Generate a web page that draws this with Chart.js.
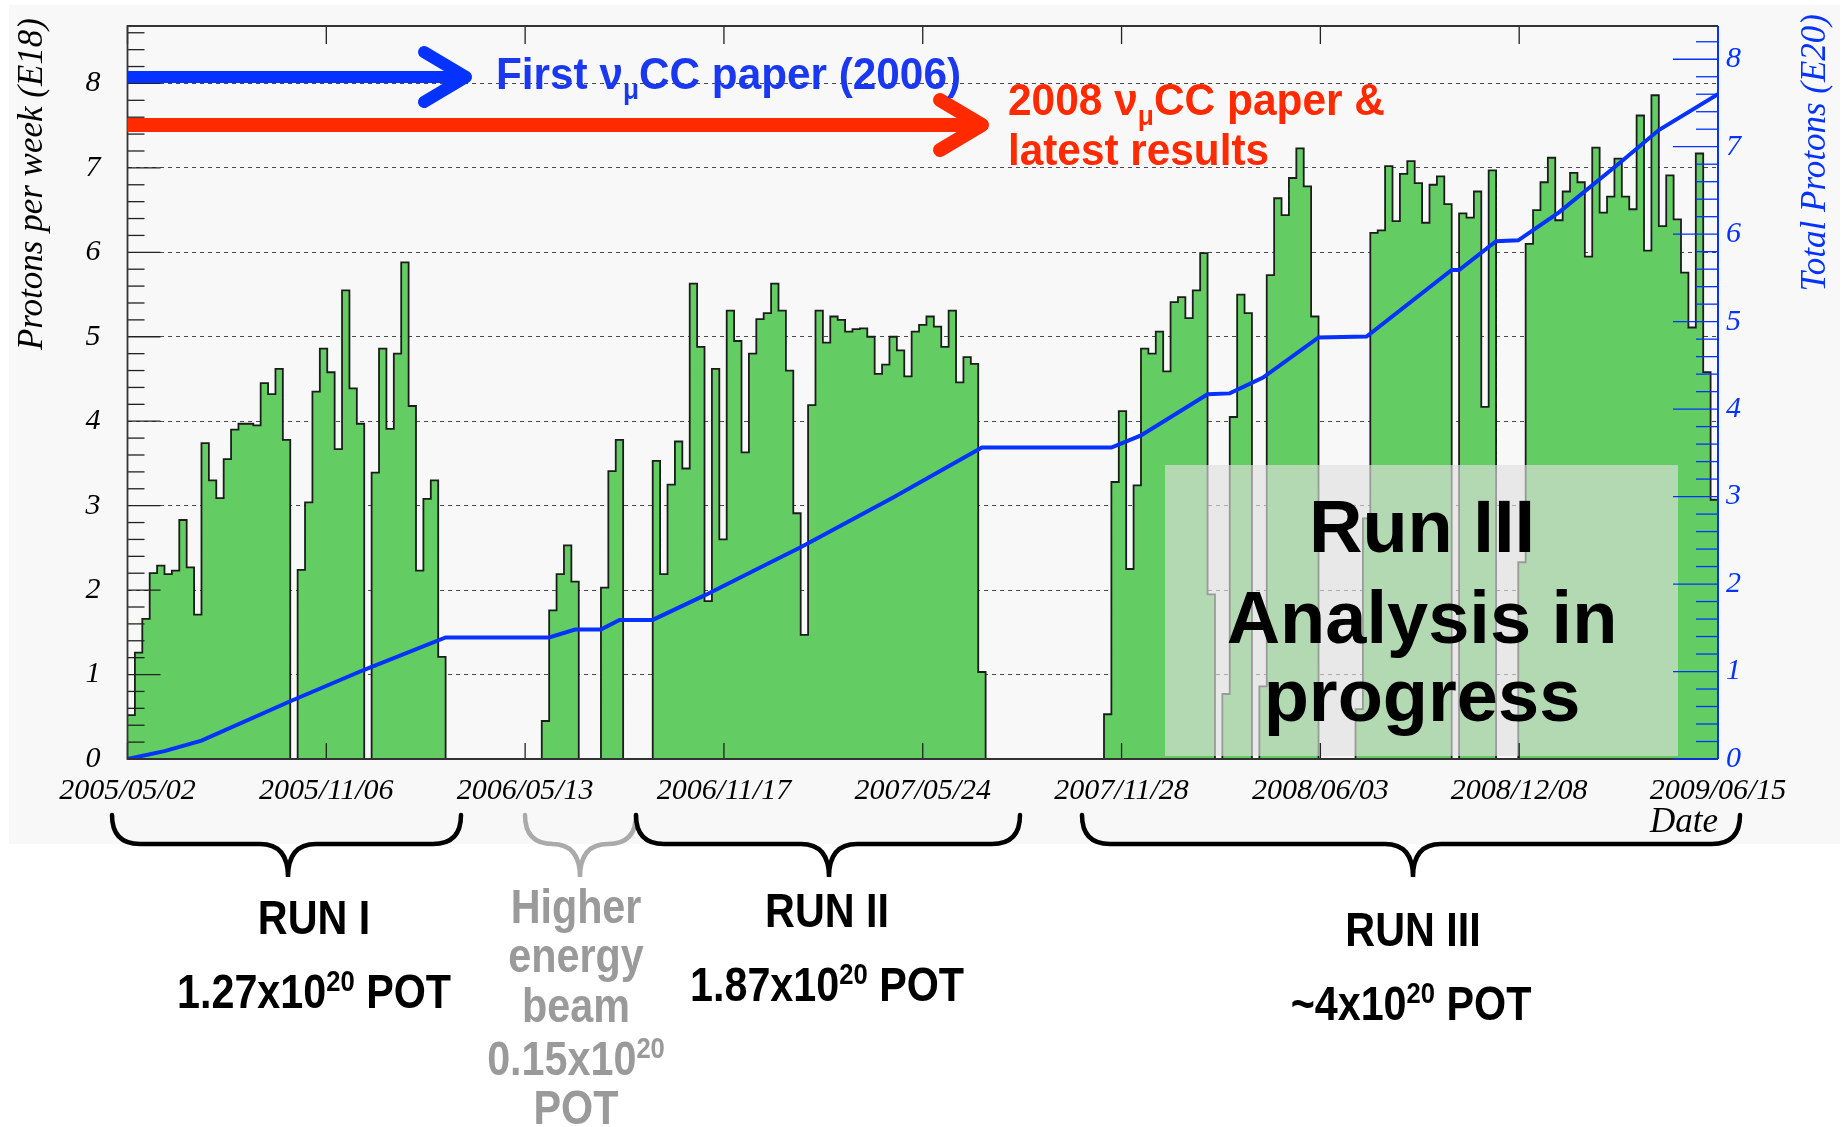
<!DOCTYPE html>
<html>
<head>
<meta charset="utf-8">
<script src="https://cdn.jsdelivr.net/npm/chart.js@4.4.1/dist/chart.umd.min.js"></script>
<style>
  html, body { margin: 0; padding: 0; background: #fff; }
  #wrap { width: 1843px; height: 1127px; }
</style>
</head>
<body>
<div id="wrap"><canvas id="c" width="1843" height="1127"></canvas></div>
<script>
// protons on target per week (E18), one value per week starting 2005/05/02
const weekly = [
  0.52, 1.26, 1.66, 2.20, 2.29, 2.19, 2.23, 2.83, 2.27, 1.71,
  3.74, 3.30, 3.09, 3.55, 3.90, 3.97, 3.97, 3.95, 4.45, 4.32,
  4.62, 3.78, 0, 2.24, 3.04, 4.35, 4.86, 4.58, 3.67, 5.55,
  4.39, 3.97, 0, 3.39, 4.86, 3.91, 4.80, 5.88, 4.18, 2.23,
  3.08, 3.30, 1.21, 0, 0, 0, 0, 0, 0, 0,
  0, 0, 0, 0, 0, 0, 0.45, 1.76, 2.19, 2.53,
  2.10, 0, 0, 0, 2.03, 3.41, 3.78, 0, 0, 0,
  0, 3.53, 2.19, 3.25, 3.76, 3.44, 5.63, 4.88, 1.87, 4.62,
  2.60, 5.31, 4.95, 3.63, 4.80, 5.21, 5.28, 5.63, 5.31, 4.60,
  2.91, 1.47, 4.19, 5.31, 4.93, 5.24, 5.20, 5.06, 5.09, 5.10,
  5.00, 4.56, 4.67, 5.00, 4.84, 4.53, 5.06, 5.14, 5.24, 5.12,
  4.88, 5.31, 4.46, 4.76, 4.68, 1.03, 0, 0, 0, 0,
  0, 0, 0, 0, 0, 0, 0, 0, 0, 0,
  0, 0, 0.53, 3.28, 4.12, 2.25, 3.24, 4.86, 4.80, 5.06,
  4.59, 5.41, 5.47, 5.22, 5.55, 5.99, 1.95, 0, 0.77, 4.05,
  5.50, 5.28, 0, 0.86, 5.73, 6.64, 6.44, 6.88, 7.23, 6.78,
  5.24, 0, 0, 0, 0, 0, 0.59, 2.85, 6.23, 6.26,
  7.02, 6.37, 6.93, 7.08, 6.82, 6.35, 6.80, 6.90, 6.57, 0,
  6.46, 6.41, 6.72, 4.17, 6.97, 0, 0, 0, 2.33, 6.10,
  6.50, 6.83, 7.12, 6.38, 6.72, 6.94, 6.83, 5.95, 7.24, 6.47,
  6.66, 7.11, 6.66, 6.51, 7.62, 6.02, 7.86, 6.31, 6.91, 6.39,
  5.76, 5.11, 7.17, 4.58, 3.07
];

// running total of protons (E20)
const cumWeek = [0, 5, 10, 22, 32, 43, 57, 60.5, 64, 66.5, 71, 78, 86, 91, 103.5, 115.5,
  133, 137, 146, 149, 153.5, 161, 167.5, 179, 180, 185, 188, 193.5, 201.5, 207, 215];
const cumTotal = [0, 0.09, 0.21, 0.66, 1.02, 1.39, 1.39, 1.48, 1.48, 1.59, 1.59, 1.87, 2.21, 2.42, 2.99, 3.56,
  3.56, 3.70, 4.17, 4.18, 4.36, 4.82, 4.83, 5.59, 5.59, 5.92, 5.93, 6.25, 6.80, 7.19, 7.60];

const dateTickWeeks = [0, 26.875, 53.75, 80.625, 107.5, 134.375, 161.25, 188.125, 215];
const dateLabels = ['2005/05/02', '2005/11/06', '2006/05/13', '2006/11/17', '2007/05/24',
  '2007/11/28', '2008/06/03', '2008/12/08', '2009/06/15'];
const leftTicks = [0, 1, 2, 3, 4, 5, 6, 7, 8];
const rightTicks = [0, 1, 2, 3, 4, 5, 6, 7, 8];

const SERIF = '"Liberation Serif", "DejaVu Serif", serif';
const SANS = '"Liberation Sans", Arial, sans-serif';
const GREEN = '#63cd63';
const BLUE = '#0532ff';
const TXT_BLUE = '#1a38f0';
const RED = '#ff2a00';
const GRAY = '#9a9a9a';

const histPoints = weekly.map((v, i) => ({ x: i, y: v }));
histPoints.push({ x: weekly.length, y: weekly[weekly.length - 1] });
const cumPoints = cumWeek.map((w, i) => ({ x: w, y: cumTotal[i] }));

// text with sub/superscripts, squeezed horizontally to a width
function drawRich(ctx, parts, x, y, o) {
  const font = s => `bold ${s}px ${SANS}`;
  const sizeOf = k => (k ? o.size * 0.62 : o.size);
  let w = 0;
  parts.forEach(([t, k]) => { ctx.font = font(sizeOf(k)); w += ctx.measureText(t).width; });
  const sx = o.width ? o.width / w : (o.sx || 1);
  const start = o.align === 'center' ? x - (w * sx) / 2 : x;
  ctx.save();
  ctx.translate(start, y);
  ctx.scale(sx, 1);
  ctx.fillStyle = o.color;
  ctx.textAlign = 'left';
  ctx.textBaseline = 'alphabetic';
  let cx = 0;
  parts.forEach(([t, k]) => {
    ctx.font = font(sizeOf(k));
    ctx.fillText(t, cx, k > 0 ? -o.size * 0.36 : k < 0 ? o.size * 0.22 : 0);
    cx += ctx.measureText(t).width;
  });
  ctx.restore();
}

function arrow(ctx, x0, tip, y, color, w) {
  ctx.save();
  ctx.strokeStyle = color;
  ctx.lineWidth = w;
  ctx.lineCap = 'butt';
  ctx.beginPath();
  ctx.moveTo(x0, y);
  ctx.lineTo(tip - 8, y);
  ctx.stroke();
  ctx.lineCap = 'round';
  ctx.lineJoin = 'round';
  ctx.beginPath();
  ctx.moveTo(tip - 48, y - 25);
  ctx.lineTo(tip - 6, y);
  ctx.lineTo(tip - 48, y + 25);
  ctx.stroke();
  ctx.restore();
}

function brace(ctx, x1, x2, xt, color) {
  const yTop = 815, yMid = 844, yTip = 877, r = 28;
  ctx.save();
  ctx.strokeStyle = color;
  ctx.lineWidth = 4.5;
  ctx.lineCap = 'round';
  ctx.beginPath();
  ctx.moveTo(x1, yTop);
  ctx.quadraticCurveTo(x1, yMid, x1 + r, yMid);
  ctx.lineTo(xt - r, yMid);
  ctx.quadraticCurveTo(xt, yMid, xt, yTip);
  ctx.quadraticCurveTo(xt, yMid, xt + r, yMid);
  ctx.lineTo(x2 - r, yMid);
  ctx.quadraticCurveTo(x2, yMid, x2, yTop);
  ctx.stroke();
  ctx.restore();
}

const background = {
  id: 'background',
  beforeDraw(chart) {
    const ctx = chart.ctx;
    ctx.save();
    ctx.fillStyle = '#fff';
    ctx.fillRect(0, 0, chart.width, chart.height);
    ctx.fillStyle = '#f8f8f8';
    ctx.fillRect(9, 5, 1831, 839);
    ctx.restore();
  }
};

const frame = {
  id: 'frame',
  afterDatasetsDraw(chart) {
    const ctx = chart.ctx;
    const { left, right, top, bottom } = chart.chartArea;
    const xs = chart.scales.x, ys = chart.scales.y, y2 = chart.scales.y2;
    ctx.save();

    // "analysis in progress" veil
    ctx.fillStyle = 'rgba(223,223,223,0.65)';
    ctx.fillRect(1165, 465, 513, 291);
    ctx.fillStyle = '#000';
    ctx.font = `bold 74px ${SANS}`;
    ctx.textAlign = 'center';
    ctx.textBaseline = 'alphabetic';
    ctx.fillText('Run III', 1422, 552);
    ctx.fillText('Analysis in', 1422, 643);
    ctx.fillText('progress', 1422, 721);

    // left axis ticks
    ctx.strokeStyle = '#222';
    ctx.lineWidth = 1.3;
    for (let i = 0; i / 5 <= ys.max; i++) {
      const py = ys.getPixelForValue(i / 5);
      ctx.beginPath();
      ctx.moveTo(left, py);
      ctx.lineTo(left + (i % 5 === 0 ? 33 : 17), py);
      ctx.stroke();
    }
    // date ticks, top and bottom
    dateTickWeeks.forEach(w => {
      const px = xs.getPixelForValue(w);
      ctx.beginPath();
      ctx.moveTo(px, top); ctx.lineTo(px, top + 18);
      ctx.moveTo(px, bottom); ctx.lineTo(px, bottom - 16);
      ctx.stroke();
    });
    // frame
    ctx.lineWidth = 1.8;
    ctx.strokeStyle = '#333';
    ctx.beginPath();
    ctx.moveTo(right, top); ctx.lineTo(left, top); ctx.lineTo(left, bottom); ctx.lineTo(right, bottom);
    ctx.stroke();
    // right (blue) axis
    ctx.strokeStyle = BLUE;
    ctx.lineWidth = 2;
    ctx.beginPath();
    ctx.moveTo(right, top); ctx.lineTo(right, bottom);
    ctx.stroke();
    ctx.lineWidth = 1.3;
    for (let i = 0; i / 5 <= y2.max; i++) {
      const py = y2.getPixelForValue(i / 5);
      ctx.beginPath();
      ctx.moveTo(right, py);
      ctx.lineTo(right - (i % 5 === 0 ? 45 : 22), py);
      ctx.stroke();
    }
    ctx.restore();
  },
  afterDraw(chart) {
    const ctx = chart.ctx;
    ctx.save();

    // axis titles
    ctx.font = `italic 35px ${SERIF}`;
    ctx.textBaseline = 'middle';
    ctx.textAlign = 'right';
    ctx.fillStyle = '#000';
    ctx.save(); ctx.translate(33, 18); ctx.rotate(-Math.PI / 2);
    ctx.fillText('Protons per week (E18)', 0, 0); ctx.restore();
    ctx.fillStyle = BLUE;
    ctx.save(); ctx.translate(1816, 14); ctx.rotate(-Math.PI / 2);
    ctx.fillText('Total Protons (E20)', 0, 0); ctx.restore();
    ctx.fillStyle = '#000';
    ctx.textBaseline = 'alphabetic';
    ctx.fillText('Date', 1718, 832);

    // paper arrows
    arrow(ctx, 127.5, 472, 77, BLUE, 12);
    arrow(ctx, 127.5, 988, 125, RED, 14);
    drawRich(ctx, [['First ν', 0], ['μ', -1], ['CC paper (2006)', 0]], 496, 89,
      { size: 45, color: TXT_BLUE, width: 465 });
    drawRich(ctx, [['2008 ν', 0], ['μ', -1], ['CC paper &', 0]], 1008, 115,
      { size: 45, color: RED, width: 377 });
    drawRich(ctx, [['latest results', 0]], 1008, 165, { size: 45, color: RED, width: 261 });

    // run braces
    brace(ctx, 112, 461, 288, '#000');
    brace(ctx, 525, 636, 580, '#aaa');
    brace(ctx, 636, 1020, 829, '#000');
    brace(ctx, 1082, 1740, 1413, '#000');

    const notes = [
      [[['RUN I', 0]], 314, 934, '#000'],
      [[['1.27x10', 0], ['20', 1], [' POT', 0]], 314, 1008, '#000'],
      [[['Higher', 0]], 576, 923, GRAY],
      [[['energy', 0]], 576, 972, GRAY],
      [[['beam', 0]], 576, 1022, GRAY],
      [[['0.15x10', 0], ['20', 1]], 576, 1075, GRAY],
      [[['POT', 0]], 576, 1124, GRAY],
      [[['RUN II', 0]], 827, 927, '#000'],
      [[['1.87x10', 0], ['20', 1], [' POT', 0]], 827, 1001, '#000'],
      [[['RUN III', 0]], 1413, 946, '#000'],
      [[['~4x10', 0], ['20', 1], [' POT', 0]], 1411, 1020, '#000']
    ];
    notes.forEach(([parts, x, y, color]) => {
      drawRich(ctx, parts, x, y, { size: 48, color, sx: 0.86, align: 'center' });
    });
    ctx.restore();
  }
};

const tickFont = { family: SERIF, style: 'italic', size: 30 };
const noPad = s => { s.paddingTop = 0; s.paddingBottom = 0; s.paddingLeft = 0; s.paddingRight = 0; };

new Chart(document.getElementById('c'), {
  type: 'line',
  data: {
    datasets: [
      {
        label: 'Total protons (E20)',
        data: cumPoints,
        yAxisID: 'y2',
        borderColor: BLUE,
        borderWidth: 4,
        pointRadius: 0,
        fill: false,
        tension: 0,
        order: 1
      },
      {
        label: 'Protons per week (E18)',
        data: histPoints,
        yAxisID: 'y',
        stepped: 'before',
        borderColor: '#1c1c1c',
        borderWidth: 1.8,
        backgroundColor: GREEN,
        fill: 'origin',
        pointRadius: 0,
        order: 2
      }
    ]
  },
  options: {
    responsive: false,
    animation: false,
    devicePixelRatio: 1,
    layout: { padding: { left: 10, right: 0, top: 26, bottom: 289 } },
    plugins: { legend: { display: false }, tooltip: { enabled: false } },
    scales: {
      x: {
        type: 'linear',
        position: 'bottom',
        min: 0,
        max: weekly.length,
        grid: { display: false },
        border: { display: false },
        afterBuildTicks: s => { s.ticks = dateTickWeeks.map(v => ({ value: v })); },
        afterFit: s => { s.height = 79; noPad(s); },
        ticks: {
          callback: (v, i) => dateLabels[i],
          autoSkip: false,
          maxRotation: 0,
          padding: 6,
          color: '#000',
          font: tickFont
        }
      },
      y: {
        position: 'left',
        min: 0,
        max: 8.68,
        afterBuildTicks: s => { s.ticks = leftTicks.map(v => ({ value: v })); },
        afterFit: s => { s.width = 117.5; noPad(s); },
        grid: { color: 'rgba(0,0,0,0.7)', lineWidth: 1, drawTicks: false },
        border: { display: false, dash: [4, 4] },
        ticks: { padding: 27, color: '#000', font: tickFont }
      },
      y2: {
        position: 'right',
        min: 0,
        max: 8.38,
        afterBuildTicks: s => { s.ticks = rightTicks.map(v => ({ value: v })); },
        afterFit: s => { s.width = 125; noPad(s); },
        grid: { display: false, drawTicks: false },
        border: { display: false },
        ticks: { padding: 8, color: BLUE, font: tickFont }
      }
    }
  },
  plugins: [background, frame]
});
</script>
</body>
</html>
